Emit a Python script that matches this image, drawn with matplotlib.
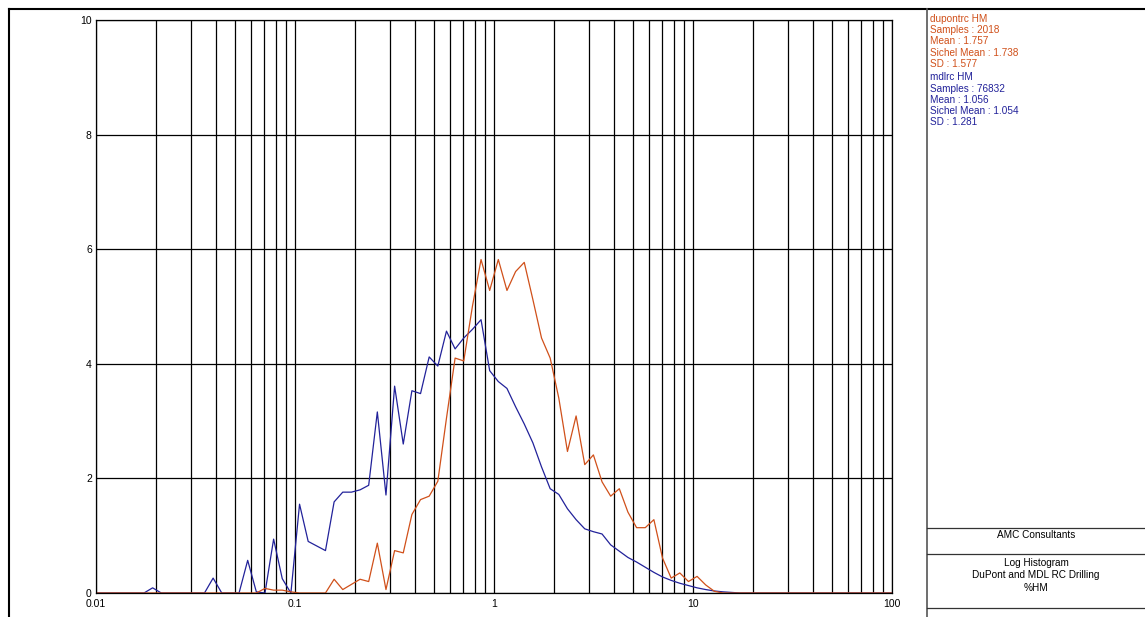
import numpy as np
import matplotlib
matplotlib.use('Agg')
import matplotlib.pyplot as plt
from matplotlib.ticker import LogLocator, FixedLocator, FixedFormatter, NullFormatter
from matplotlib.lines import Line2D

plt.rcParams['font.family'] = ['Liberation Sans', 'DejaVu Sans']

# log histogram bins: index k, width 0.1 in ln(x), from k=-47 to k=46
bin_k = np.arange(-47, 47)
bin_centres = np.exp(0.1 * (bin_k + 0.5))

# mdlrc HM (blue), one value per bin
mdlrc = [0, 0, 0, 0, 0, 0, 0,
         0.09, 0, 0, 0, 0, 0, 0, 0.26, 0, 0, 0, 0.57, 0.02, 0, 0.94, 0.25, 0,
         1.55, 0.90, 0.82, 0.74, 1.59, 1.76, 1.76, 1.80, 1.88, 3.16, 1.71, 3.61,
         2.60, 3.53, 3.48, 4.12, 3.96, 4.57, 4.26, 4.45, 4.60, 4.77, 3.88,
         3.69, 3.57, 3.25, 2.95, 2.62, 2.20, 1.82, 1.72, 1.47, 1.28, 1.12, 1.07,
         1.03, 0.84, 0.73, 0.62, 0.54, 0.45, 0.36, 0.28, 0.22, 0.17, 0.13, 0.09,
         0.06, 0.035, 0.02, 0.01,
         0, 0, 0, 0, 0, 0, 0, 0, 0, 0, 0, 0, 0, 0, 0, 0, 0, 0, 0]

# dupontrc HM (orange)
dupontrc = [0, 0, 0, 0, 0, 0, 0,
            0, 0, 0, 0, 0, 0, 0, 0, 0, 0, 0, 0, 0, 0.08, 0.05, 0.05, 0.02,
            0, 0, 0, 0, 0.24, 0.06, 0.15, 0.24, 0.20, 0.87, 0.06, 0.74,
            0.70, 1.37, 1.63, 1.69, 1.95, 3.05, 4.10, 4.05, 5.00, 5.82, 5.28,
            5.82, 5.28, 5.61, 5.77, 5.12, 4.45, 4.10, 3.40, 2.47, 3.09, 2.24, 2.41,
            1.94, 1.69, 1.82, 1.41, 1.14, 1.14, 1.28, 0.61, 0.26, 0.35, 0.20, 0.29,
            0.14, 0.03, 0, 0,
            0, 0, 0, 0, 0, 0, 0, 0, 0, 0, 0, 0, 0, 0, 0, 0, 0, 0, 0]

xticks = [0.01, 0.1, 1, 10, 100]
xticklabels = ['0.01', '0.1', '1', '10', '100']
yticks = [0, 2, 4, 6, 8, 10]

dupont_text = ['dupontrc HM', 'Samples : 2018', 'Mean : 1.757',
               'Sichel Mean : 1.738', 'SD : 1.577']
mdl_text = ['mdlrc HM', 'Samples : 76832', 'Mean : 1.056',
            'Sichel Mean : 1.054', 'SD : 1.281']
title_lines = ['Log Histogram', 'DuPont and MDL RC Drilling', '%HM']

orange = '#d0501a'
blue = '#22229a'

W, H = 1145, 617
fig = plt.figure(figsize=(W / 100, H / 100), dpi=100)
ax = fig.add_axes([96 / W, 1 - 593 / H, (892 - 96) / W, (593 - 20) / H])

ax.plot(bin_centres, mdlrc, color=blue, lw=0.9)
ax.plot(bin_centres, dupontrc, color=orange, lw=0.9)

ax.set_xscale('log')
ax.set_xlim(0.01, 100)
ax.set_ylim(0, 10)
ax.xaxis.set_major_locator(FixedLocator(xticks))
ax.xaxis.set_major_formatter(FixedFormatter(xticklabels))
ax.xaxis.set_minor_locator(LogLocator(base=10, subs=np.arange(2, 10)))
ax.xaxis.set_minor_formatter(NullFormatter())
ax.set_yticks(yticks)
ax.grid(True, which='both', axis='x', color='black', lw=0.9)
ax.grid(True, which='major', axis='y', color='black', lw=0.9)
ax.tick_params(which='both', length=0, labelsize=7.5, colors='black')
ax.tick_params(axis='x', pad=4)
ax.tick_params(axis='y', pad=3)
for s in ax.spines.values():
    s.set_color('black')
    s.set_linewidth(0.9)

# outer frame and right-hand panel
def fx(px):
    return px / W

def fy(py):
    return 1 - py / H

fig.add_artist(Line2D([fx(9), 1], [fy(8.5), fy(8.5)], color='black', lw=1.5))
fig.add_artist(Line2D([fx(9), fx(9)], [fy(8.5), 0], color='black', lw=1.5))
fig.add_artist(Line2D([fx(927), fx(927)], [fy(8.5), 0], color='#555555', lw=1.2))
for py in [528, 554, 608]:
    fig.add_artist(Line2D([fx(927), 1], [fy(py), fy(py)], color='#333333', lw=0.9))

y0 = 19
for i, t in enumerate(dupont_text):
    fig.text(fx(930), fy(y0 + i * 11.2), t, color=orange, fontsize=7.2,
             va='center', ha='left')
y0 = 77.5
for i, t in enumerate(mdl_text):
    fig.text(fx(930), fy(y0 + i * 11.2), t, color=blue, fontsize=7.2,
             va='center', ha='left')

fig.text(fx(1036), fy(535), 'AMC Consultants', fontsize=7.2, ha='center', va='center')
for i, t in enumerate(title_lines):
    fig.text(fx(1036), fy(563 + i * 12.5), t, fontsize=7.2, ha='center', va='center')

fig.savefig('out.png', dpi=100)
